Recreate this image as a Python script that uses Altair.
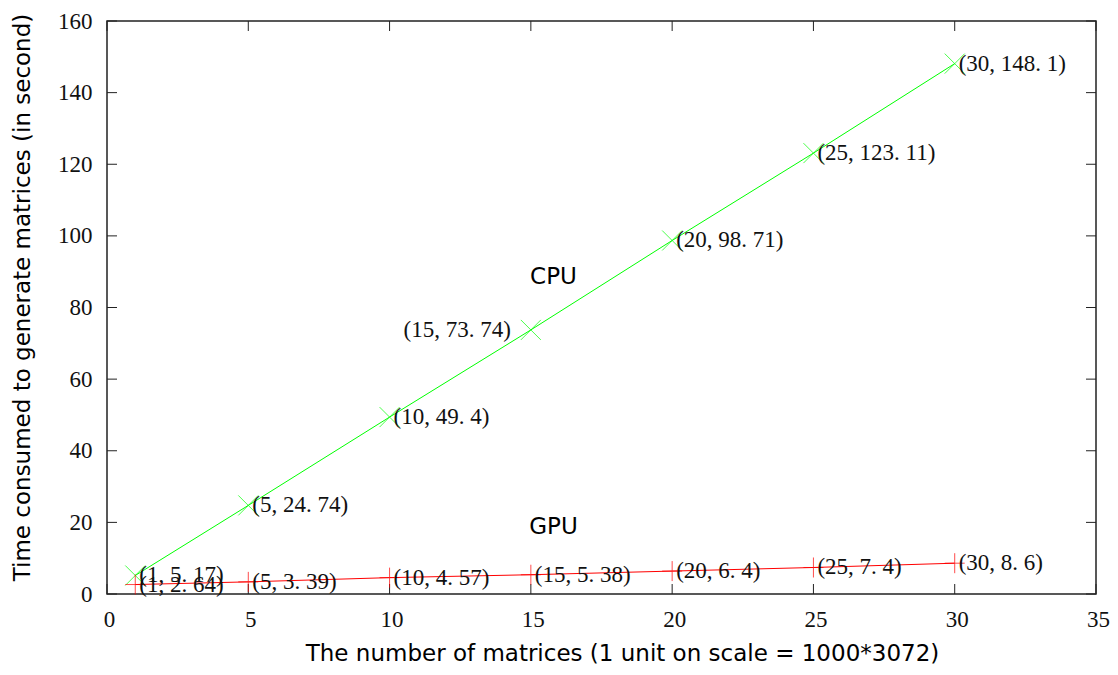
import altair as alt
import pandas as pd

# ---- data ----
x_vals = [1, 5, 10, 15, 20, 25, 30]
cpu_times = [5.17, 24.74, 49.4, 73.74, 98.71, 123.11, 148.1]
gpu_times = [2.64, 3.39, 4.57, 5.38, 6.4, 7.4, 8.6]
series_names = ["CPU", "GPU"]
series_colors = ["#00ff00", "#ff0000"]
annot_x = [15.8, 15.8]
annot_y = [88.5, 18.7]
x_ticks = [0, 5, 10, 15, 20, 25, 30, 35]
y_ticks = [0, 20, 40, 60, 80, 100, 120, 140, 160]
left_label_points = [("CPU", 15)]

W, H = 989, 573
TICK = 10
SERIF = "Liberation Serif"
SANS = "DejaVu Sans"


def fmt(v):
    s = f"{v:g}"
    return s.replace(".", ". ")


rows = []
for name, ys in zip(series_names, [cpu_times, gpu_times]):
    for x, y in zip(x_vals, ys):
        rows.append({"series": name, "x": x, "y": y,
                     "label": f"({x}, {fmt(y)})",
                     "left": (name, x) in left_label_points})
df = pd.DataFrame(rows)

xscale = alt.Scale(domain=[0, 35], nice=False, zero=False)
yscale = alt.Scale(domain=[0, 160], nice=False, zero=False)
cscale = alt.Scale(domain=series_names, range=series_colors)

xaxis = alt.Axis(values=x_ticks, ticks=False, domain=False, grid=False,
                 labelFont=SERIF, labelFontSize=23, labelColor="#111",
                 labelPadding=14, labelOffset=2, labelFlush=False,
                 title="The number of matrices (1 unit on scale = 1000*3072)",
                 titleFont=SANS, titleFontSize=23, titleFontWeight="normal",
                 titleColor="#000", titleX=515, titleY=59, titleBaseline="middle",
                 titleAnchor="middle")
yaxis = alt.Axis(values=y_ticks, ticks=False, domain=False, grid=False,
                 labelFont=SERIF, labelFontSize=23, labelColor="#111",
                 labelPadding=15, labelFlush=False,
                 title="Time consumed to generate matrices (in second)",
                 titleFont=SANS, titleFontSize=23, titleFontWeight="normal",
                 titleColor="#000", titleX=-85, titleY=276, titleAngle=-90,
                 titleBaseline="middle", titleAnchor="middle")

base = alt.Chart(df)

lines = base.mark_line(strokeWidth=1).encode(
    x=alt.X("x:Q", scale=xscale, axis=xaxis),
    y=alt.Y("y:Q", scale=yscale, axis=yaxis),
    color=alt.Color("series:N", scale=cscale, legend=None),
    detail="series:N",
)

cpu_marks = base.transform_filter(alt.datum.series == "CPU").mark_point(
    shape="M-1,-1L1,1M-1,1L1,-1", size=400, filled=False, strokeWidth=1
).encode(
    x=alt.X("x:Q", scale=xscale), y=alt.Y("y:Q", scale=yscale),
    color=alt.Color("series:N", scale=cscale, legend=None),
)
gpu_marks = base.transform_filter(alt.datum.series == "GPU").mark_point(
    shape="M-1,0L1,0M0,-1L0,1", size=400, filled=False, strokeWidth=1
).encode(
    x=alt.X("x:Q", scale=xscale), y=alt.Y("y:Q", scale=yscale),
    color=alt.Color("series:N", scale=cscale, legend=None),
)

labels_right = base.transform_filter(alt.datum.left == False).mark_text(
    align="left", baseline="middle", dx=4, font=SERIF, fontSize=23, color="#111"
).encode(x=alt.X("x:Q", scale=xscale), y=alt.Y("y:Q", scale=yscale), text="label:N")

labels_left = base.transform_filter(alt.datum.left == True).mark_text(
    align="right", baseline="middle", dx=-20, font=SERIF, fontSize=23, color="#111"
).encode(x=alt.X("x:Q", scale=xscale), y=alt.Y("y:Q", scale=yscale), text="label:N")

annot_df = pd.DataFrame({"name": series_names, "x": annot_x, "y": annot_y})
annots = alt.Chart(annot_df).mark_text(
    align="center", baseline="middle", font=SANS, fontSize=23, color="#000"
).encode(x=alt.X("x:Q", scale=xscale), y=alt.Y("y:Q", scale=yscale), text="name:N")

xt = pd.DataFrame({"t": x_ticks})
yt = pd.DataFrame({"t": y_ticks})
tick_color = "#222"
xt_bottom = alt.Chart(xt).mark_rule(color=tick_color, strokeWidth=1).encode(
    x=alt.X("t:Q", scale=xscale), y=alt.value(H), y2=alt.value(H - TICK))
xt_top = alt.Chart(xt).mark_rule(color=tick_color, strokeWidth=1).encode(
    x=alt.X("t:Q", scale=xscale), y=alt.value(0), y2=alt.value(TICK))
yt_left = alt.Chart(yt).mark_rule(color=tick_color, strokeWidth=1).encode(
    y=alt.Y("t:Q", scale=yscale), x=alt.value(0), x2=alt.value(TICK))
yt_right = alt.Chart(yt).mark_rule(color=tick_color, strokeWidth=1).encode(
    y=alt.Y("t:Q", scale=yscale), x=alt.value(W), x2=alt.value(W - TICK))

chart = alt.layer(
    xt_bottom, xt_top, yt_left, yt_right,
    lines, cpu_marks, gpu_marks, labels_right, labels_left, annots
).properties(
    width=W, height=H,
    autosize=alt.AutoSizeParams(type="none"),
    padding={"left": 99, "top": 13, "right": 14, "bottom": 72},
    background="white",
).configure_view(stroke="#222", strokeWidth=1.5)

chart.save("out.html", embed_options={"renderer": "svg", "actions": False})
